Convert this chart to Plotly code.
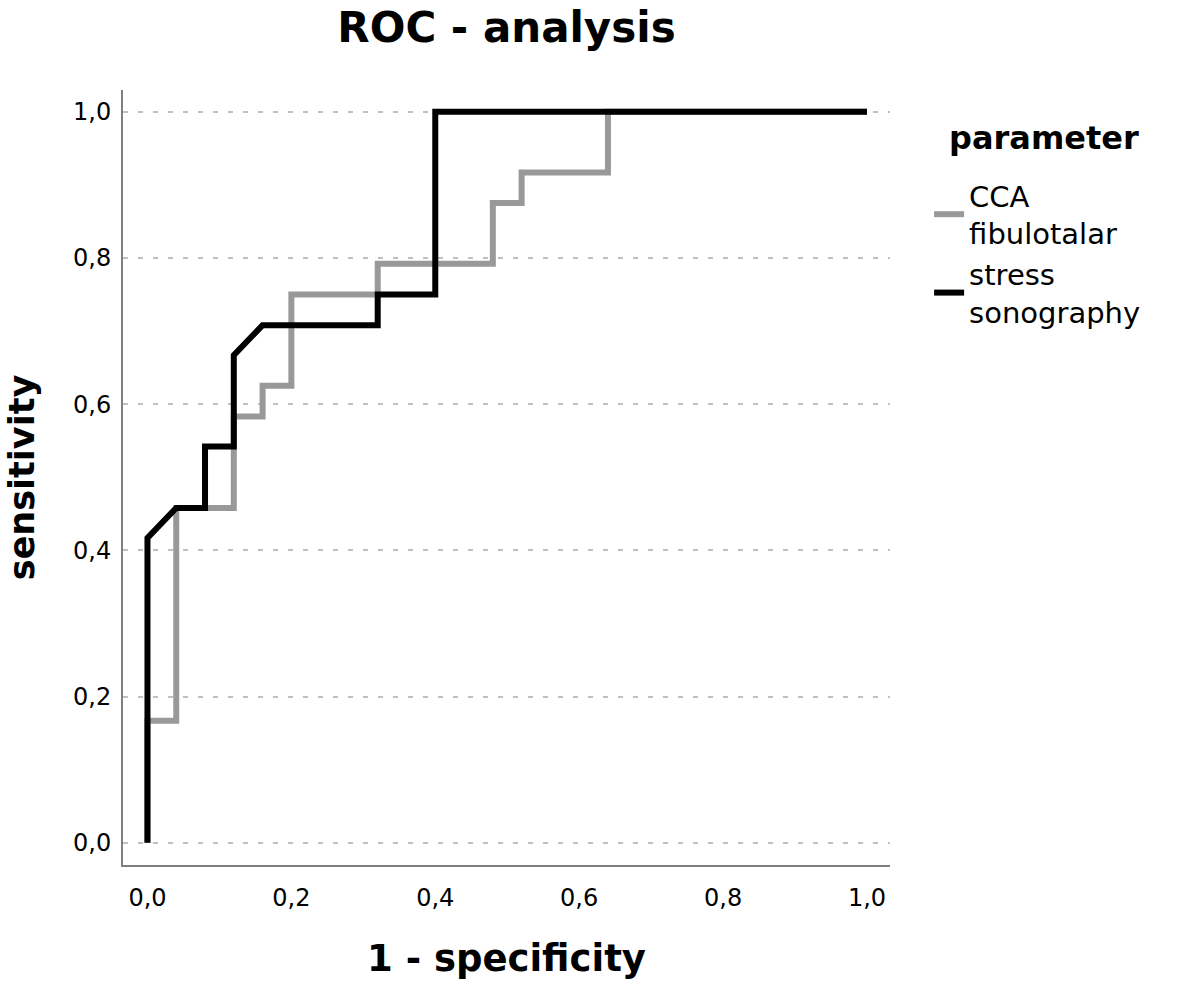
import plotly.graph_objects as go

# ROC curve data (1 - specificity, sensitivity)
cca_fpr = [0.0, 0.0, 0.04, 0.04, 0.12, 0.12, 0.16, 0.16, 0.20, 0.20, 0.32, 0.32, 0.48, 0.48, 0.52, 0.52, 0.64, 0.64, 1.0]
cca_tpr = [0.0, 0.167, 0.167, 0.458, 0.458, 0.583, 0.583, 0.625, 0.625, 0.750, 0.750, 0.792, 0.792, 0.875, 0.875, 0.917, 0.917, 1.0, 1.0]

stress_fpr = [0.0, 0.0, 0.04, 0.08, 0.08, 0.12, 0.12, 0.16, 0.32, 0.32, 0.40, 0.40, 1.0]
stress_tpr = [0.0, 0.417, 0.458, 0.458, 0.542, 0.542, 0.667, 0.708, 0.708, 0.750, 0.750, 1.0, 1.0]

series_names = ["CCA<br>fibulotalar", "stress<br>sonography"]
series_colors = ["#999999", "#000000"]
tick_vals = [0.0, 0.2, 0.4, 0.6, 0.8, 1.0]

FONT = "DejaVu Sans"

fig = go.Figure()
fig.add_trace(go.Scatter(x=cca_fpr, y=cca_tpr, mode="lines", name=series_names[0],
                         line=dict(color=series_colors[0], width=6)))
fig.add_trace(go.Scatter(x=stress_fpr, y=stress_tpr, mode="lines", name=series_names[1],
                         line=dict(color=series_colors[1], width=6)))

fig.update_layout(
    width=1181, height=986,
    margin=dict(l=123, r=291, t=90, b=121),
    paper_bgcolor="white", plot_bgcolor="white",
    separators=", ",
    font=dict(family=FONT, color="#000000"),
    title=dict(text="<b>ROC - analysis</b>", x=0.5, xref="paper", xanchor="center",
               y=1 - 27 / 986, yanchor="middle", font=dict(size=42, family=FONT)),
    legend=dict(
        x=1.051, xanchor="left", y=(865 - 170) / 775, yanchor="top",
        font=dict(size=29), tracegroupgap=0,
        bgcolor="rgba(0,0,0,0)",
    ),
    showlegend=True,
    annotations=[dict(text="<b>parameter</b>", xref="paper", yref="paper",
                      x=(1044 - 123) / 767, y=(865 - 138) / 775,
                      xanchor="center", yanchor="middle", showarrow=False,
                      font=dict(size=32, family=FONT))],
)

fig.update_xaxes(
    range=[-0.034, 1.032], tickvals=tick_vals, tickformat=".1f",
    showgrid=False, zeroline=False, showline=True, linecolor="#808080", linewidth=2,
    ticks="", ticklabelstandoff=10, tickfont=dict(size=24),
    title=dict(text="<b>1 - specificity</b>", font=dict(size=37), standoff=34),
)
fig.update_yaxes(
    range=[-0.0305, 1.0297], tickvals=tick_vals, tickformat=".1f",
    showgrid=True, gridcolor="#c0c0c0", griddash="5px,10px", gridwidth=2,
    zeroline=False, showline=True, linecolor="#808080", linewidth=2,
    ticks="", ticklabelstandoff=5, tickfont=dict(size=24),
    title=dict(text="<b>sensitivity</b>", font=dict(size=35), standoff=28),
)

fig.write_html("out.html", config={"displayModeBar": False},
               post_script="document.body.style.margin='0';")
